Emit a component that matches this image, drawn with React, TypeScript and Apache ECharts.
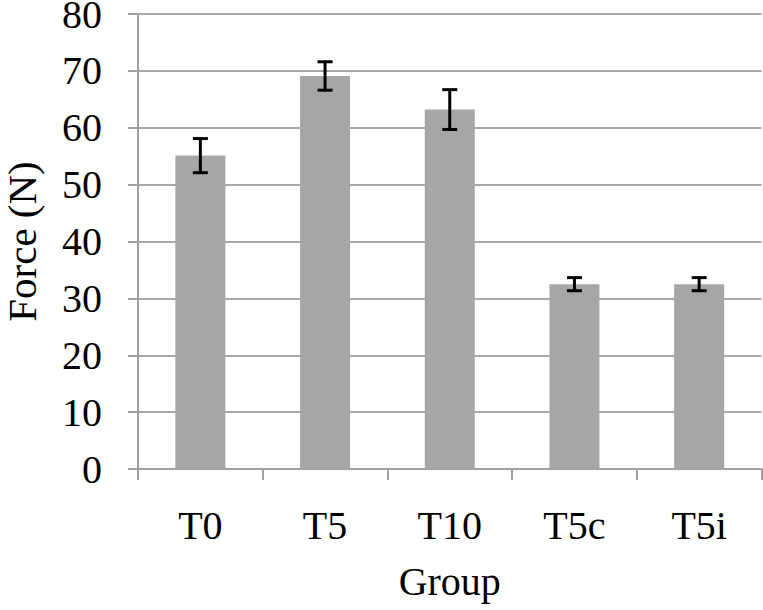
import React, { useEffect, useRef } from "react";
import * as echarts from "echarts";

const categories = ["T0", "T5", "T10", "T5c", "T5i"];
const means = [55.1, 69.1, 63.2, 32.5, 32.5];
const errors = [3.0, 2.5, 3.5, 1.15, 1.15];
const yTicks = [0, 10, 20, 30, 40, 50, 60, 70, 80];

const FONT = "'Liberation Serif', 'Times New Roman', serif";

export default function App() {
  const ref = useRef<HTMLDivElement>(null);
  useEffect(() => {
    if (!ref.current) return;
    const chart = echarts.init(ref.current, undefined, { renderer: "svg" });
    const errData = categories.map((c, i) => [i, means[i] - errors[i], means[i] + errors[i]]);
    chart.setOption({
      animation: false,
      backgroundColor: "#ffffff",
      grid: {
        left: 138,
        right: 1.5,
        top: 14,
        bottom: 141,
        containLabel: false,
        outerBoundsMode: "none",
      },
      xAxis: {
        type: "category",
        data: categories,
        name: "Group",
        nameLocation: "middle",
        nameGap: 92,
        nameTextStyle: { fontFamily: FONT, fontSize: 40, color: "#000" },
        axisLine: { lineStyle: { color: "#a0a0a0", width: 2 } },
        axisTick: { show: true, length: 11, lineStyle: { color: "#a0a0a0", width: 2 } },
        axisLabel: { fontFamily: FONT, fontSize: 40, color: "#000", margin: 36 },
      },
      yAxis: {
        type: "value",
        min: yTicks[0],
        max: yTicks[yTicks.length - 1],
        interval: 10,
        name: "Force (N)",
        nameLocation: "middle",
        nameGap: 97,
        nameRotate: 90,
        nameTextStyle: { fontFamily: FONT, fontSize: 41, color: "#000", lineHeight: 38 },
        axisLine: { show: true, lineStyle: { color: "#a0a0a0", width: 2 } },
        axisTick: { show: true, length: 10, lineStyle: { color: "#a0a0a0", width: 2 } },
        axisLabel: { fontFamily: FONT, fontSize: 40, color: "#000", margin: 36, lineHeight: 28 },
        splitLine: { show: true, lineStyle: { color: "#a8a8a8", width: 2 } },
      },
      series: [
        {
          type: "bar",
          data: means,
          barWidth: 50,
          itemStyle: { color: "#a6a6a6" },
          z: 2,
        },
        {
          type: "custom",
          data: errData,
          z: 5,
          renderItem: (params: any, api: any) => {
            const x = api.value(0);
            const lo = api.coord([x, api.value(1)]);
            const hi = api.coord([x, api.value(2)]);
            const half = 7.5;
            const style = { stroke: "#000", lineWidth: 3 };
            return {
              type: "group",
              children: [
                { type: "line", shape: { x1: lo[0], y1: lo[1], x2: hi[0], y2: hi[1] }, style },
                { type: "line", shape: { x1: hi[0] - half, y1: hi[1], x2: hi[0] + half, y2: hi[1] }, style },
                { type: "line", shape: { x1: lo[0] - half, y1: lo[1], x2: lo[0] + half, y2: lo[1] }, style },
              ],
            };
          },
        },
      ],
    });
    return () => chart.dispose();
  }, []);
  return (
    <div
      ref={ref}
      style={{ position: "absolute", left: 0, top: 0, width: 763, height: 610 }}
    />
  );
}
